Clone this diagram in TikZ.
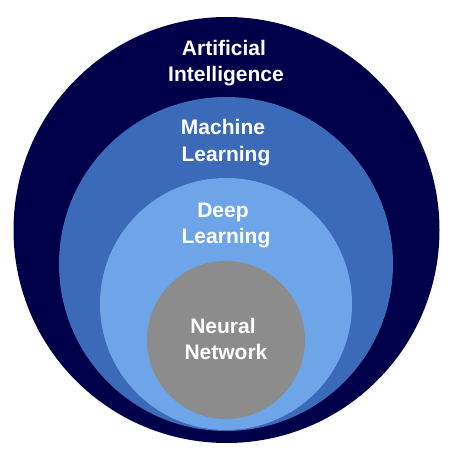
\documentclass[tikz,border=0pt]{standalone}
\usepackage{fontspec}
\setmainfont{Liberation Sans}
\definecolor{navy}{HTML}{00004A}
\definecolor{mlblue}{HTML}{3B6BB8}
\definecolor{dlblue}{HTML}{6DA5E8}
\definecolor{nngray}{HTML}{8C8C8C}
\tikzset{
  ring/.style={circle, draw=none, inner sep=0pt},
  lbl/.style={text=white, font=\fontsize{21}{25}\selectfont\bfseries, anchor=base, inner sep=0pt}
}
\begin{document}
\begin{tikzpicture}[x=1pt,y=1pt]
\useasboundingbox[fill=white] (0,0) rectangle (474,461);
\node[ring, fill=navy, minimum size=426pt] (ai) at (226.5,231) {};
\node[ring, fill=mlblue, minimum size=334pt] (ml) at (226,197) {};
\node[ring, fill=dlblue, minimum size=252pt] (dl) at (226,157) {};
\node[ring, fill=nngray, minimum size=158pt] (nn) at (226,121) {};
\node[lbl] (ai1) at (224,405) {Artificial};
\node[lbl] (ai2) at (226,379) {Intelligence};
\node[lbl] (ml1) at (223,326) {Machine};
\node[lbl] (ml2) at (226,299) {Learning};
\node[lbl] (dl1) at (223,243) {Deep};
\node[lbl] (dl2) at (226,217) {Learning};
\node[lbl] (nn1) at (223,128) {Neural};
\node[lbl] (nn2) at (226,102) {Network};
\end{tikzpicture}
\end{document}
